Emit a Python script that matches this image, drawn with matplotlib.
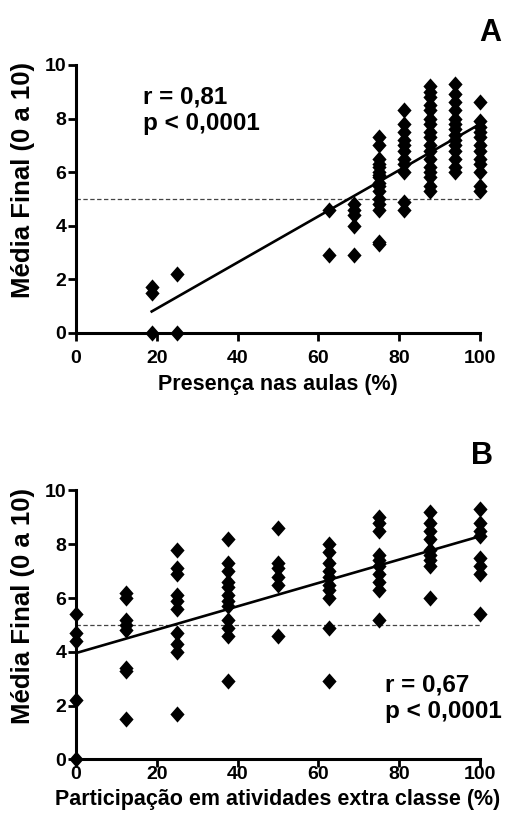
import numpy as np
import matplotlib
matplotlib.use("Agg")
import matplotlib.pyplot as plt
from matplotlib.path import Path

plt.rcParams['font.family'] = ['Liberation Sans', 'DejaVu Sans']
plt.rcParams['font.weight'] = 'bold'

# Painel A: presenca nas aulas (%) x media final
pres_x = [18.75, 25, 62.5, 68.75, 75, 81.25, 87.5, 93.75, 100]
pres_y = [
    [1.7, 1.5, 0],
    [2.2, 0],
    [4.6, 2.9],
    [4.8, 4.6, 4.4, 4.0, 2.9],
    [7.3, 7.0, 6.5, 6.3, 6.2, 6.0, 5.9, 5.8, 5.6, 5.5, 5.3, 5.0, 4.8, 4.6, 3.4, 3.3],
    [8.3, 7.8, 7.5, 7.2, 7.0, 6.8, 6.5, 6.3, 6.0, 4.9, 4.6],
    [9.2, 9.0, 8.8, 8.5, 8.3, 8.0, 7.8, 7.5, 7.3, 7.0, 6.8, 6.5, 6.2, 6.0, 5.8, 5.5, 5.3],
    [9.3, 8.9, 8.6, 8.3, 8.0, 7.8, 7.6, 7.4, 7.2, 7.0, 6.8, 6.5, 6.2, 6.0],
    [8.6, 7.9, 7.7, 7.5, 7.3, 7.0, 6.8, 6.5, 6.3, 6.0, 5.5, 5.3],
]

# Painel B: participacao em atividades extra classe (%) x media final
part_x = [0, 12.5, 25, 37.5, 50, 62.5, 75, 87.5, 100]
part_y = [
    [5.4, 4.7, 4.4, 2.2, 0],
    [6.2, 6.0, 5.2, 5.0, 4.8, 3.4, 3.3, 1.5],
    [7.8, 7.1, 6.9, 6.1, 5.9, 5.6, 4.7, 4.3, 4.0, 1.7],
    [8.2, 7.3, 7.0, 6.6, 6.4, 6.1, 5.9, 5.7, 5.2, 4.9, 4.6, 2.9],
    [8.6, 7.3, 7.1, 6.8, 6.5, 4.6],
    [8.0, 7.7, 7.3, 7.0, 6.8, 6.5, 6.3, 6.0, 4.9, 2.9],
    [9.0, 8.8, 8.5, 7.6, 7.4, 7.2, 6.9, 6.6, 6.3, 5.2],
    [9.2, 8.8, 8.5, 8.2, 7.8, 7.6, 7.4, 7.2, 6.0],
    [9.3, 8.8, 8.5, 8.3, 7.5, 7.2, 6.9, 5.4],
]

# linhas de regressao (inicio e fim)
fit_a = ([18.75, 100], [0.8, 7.8])
fit_b = ([0, 100], [3.95, 8.3])

# losango um pouco mais alto que largo, como na figura original
diamond = Path([(0, -1), (0.88, 0), (0, 1), (-0.88, 0), (0, -1)],
               [Path.MOVETO, Path.LINETO, Path.LINETO, Path.LINETO, Path.CLOSEPOLY])


def flatten(xs, ys):
    px, py = [], []
    for x, col in zip(xs, ys):
        px += [x] * len(col)
        py += col
    return px, py


def draw_panel(ax, xs, ys, fit, xlabel, letter, letter_pos, stats, stats_pos, xpad):
    px, py = flatten(xs, ys)
    ax.axhline(5, color='#444444', lw=0.9, ls=(0, (3.5, 2)), zorder=1)
    ax.plot(fit[0], fit[1], color='black', lw=1.9, zorder=2)
    ax.scatter(px, py, marker=diamond, s=135, color='black', zorder=3, clip_on=False,
               linewidths=0)
    ax.set_xlim(0, 100)
    ax.set_ylim(0, 10)
    ax.set_xticks(range(0, 101, 20))
    ax.set_yticks(range(0, 11, 2))
    for s in ['top', 'right']:
        ax.spines[s].set_visible(False)
    for s in ['left', 'bottom']:
        ax.spines[s].set_linewidth(2.2)
    ax.tick_params(width=2, length=5.5, labelsize=14)
    ax.tick_params(axis='y', pad=1.5)
    ax.tick_params(axis='x', pad=xpad)
    ax.set_xlabel(xlabel, fontsize=15.5, fontweight='bold', labelpad=5)
    ax.set_ylabel('Média Final (0 a 10)', fontsize=18.5, fontweight='bold')
    ax.yaxis.set_label_coords(-0.10, 0.57)
    ax.text(stats_pos[0], stats_pos[1], stats, fontsize=17.5, fontweight='bold',
            transform=ax.transData, va='top', linespacing=1.2)
    ax.text(letter_pos[0], letter_pos[1], letter, fontsize=22, fontweight='bold',
            transform=ax.transAxes, ha='center', va='center')


fig = plt.figure(figsize=(5.06, 8.22), dpi=100)
ax_a = fig.add_axes([0.150, 0.595, 0.799, 0.326])
ax_b = fig.add_axes([0.150, 0.0763, 0.799, 0.327])

draw_panel(ax_a, pres_x, pres_y, fit_a, 'Presença nas aulas (%)', 'A', (1.025, 1.12),
           'r = 0,81\np < 0,0001', (16.5, 9.25), 7)
draw_panel(ax_b, part_x, part_y, fit_b, 'Participação em atividades extra classe (%)', 'B',
           (1.005, 1.13), 'r = 0,67\np < 0,0001', (76.5, 3.2), -1)

fig.savefig('out.png', dpi=100)
